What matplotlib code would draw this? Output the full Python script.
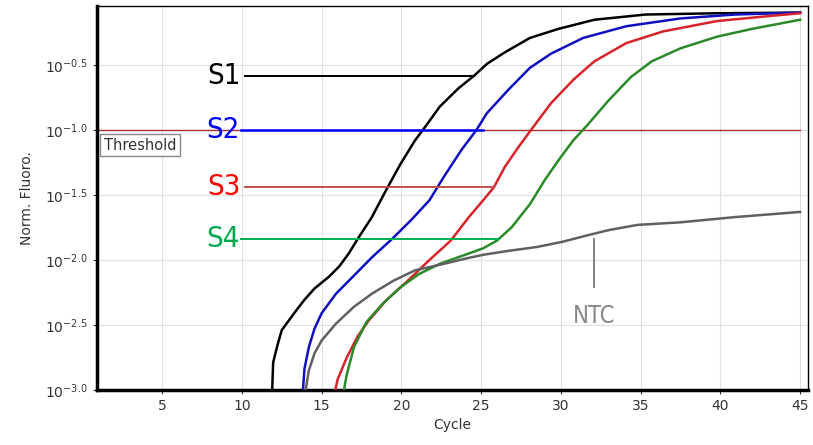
import numpy as np
import matplotlib
matplotlib.use('Agg')
import matplotlib.pyplot as plt

# amplification curves (cycle, log10 of norm. fluorescence)
s1_cycle = [11.9, 11.96, 12.2, 12.5, 12.86, 13.4, 13.9, 14.55, 15.45, 16.1, 16.7, 17.25, 18.15,
            19.05, 19.95, 20.85, 21.64, 22.4, 23.56, 24.57, 25.36, 26.5, 28.06, 29.86, 32.1,
            35.3, 39.8, 45]
s1_log = [-3.0, -2.79, -2.67, -2.54, -2.48, -2.39, -2.31, -2.22, -2.13, -2.05, -1.95, -1.84, -1.67,
          -1.46, -1.26, -1.08, -0.95, -0.82, -0.68, -0.58, -0.49, -0.40, -0.29, -0.22, -0.15,
          -0.11, -0.10, -0.095]

s2_cycle = [13.83, 13.92, 14.2, 14.55, 15.0, 15.9, 17.03, 18.15, 19.4, 20.63, 21.76, 22.66, 23.78,
            24.7, 25.36, 26.7, 28.06, 29.4, 31.4, 34.1, 37.5, 40.9, 45]
s2_log = [-3.0, -2.84, -2.67, -2.53, -2.41, -2.26, -2.12, -1.98, -1.84, -1.69, -1.54, -1.36, -1.15,
          -1.0, -0.87, -0.69, -0.52, -0.41, -0.29, -0.20, -0.14, -0.11, -0.095]

s3_cycle = [15.86, 16.0, 16.58, 17.25, 17.93, 19.05, 20.4, 21.76, 23.1, 24.23, 25.13, 25.8, 26.5,
            27.4, 28.3, 29.4, 30.8, 32.1, 34.1, 36.4, 39.8, 43.2, 45]
s3_log = [-3.0, -2.92, -2.75, -2.59, -2.47, -2.31, -2.16, -2.0, -1.85, -1.67, -1.54, -1.44, -1.28,
          -1.12, -0.97, -0.79, -0.61, -0.47, -0.33, -0.24, -0.16, -0.12, -0.10]

s4_cycle = [16.4, 16.58, 17.03, 17.8, 18.8, 19.95, 21.08, 22.4, 24.0, 25.13, 26.0, 26.9, 28.06,
            28.96, 29.86, 30.77, 31.67, 33.0, 34.4, 35.7, 37.5, 39.8, 42.0, 45]
s4_log = [-3.0, -2.88, -2.67, -2.48, -2.34, -2.21, -2.11, -2.03, -1.96, -1.91, -1.85, -1.75, -1.57,
          -1.39, -1.23, -1.08, -0.96, -0.77, -0.59, -0.47, -0.37, -0.28, -0.22, -0.15]

ntc_cycle = [14.0, 14.2, 14.55, 15.0, 15.9, 17.03, 18.15, 19.5, 20.85, 22.66, 24.0, 25.13, 26.7,
             28.5, 30.1, 31.67, 33.0, 34.8, 37.5, 40.9, 45]
ntc_log = [-3.0, -2.85, -2.72, -2.62, -2.49, -2.36, -2.26, -2.16, -2.08, -2.03, -1.99, -1.96, -1.93,
           -1.90, -1.86, -1.81, -1.77, -1.73, -1.71, -1.67, -1.63]

threshold_log = -1.0
x_ticks = [5, 10, 15, 20, 25, 30, 35, 40, 45]
y_ticks_log = [-3.0, -2.5, -2.0, -1.5, -1.0, -0.5]

# sample labels: name, level, label x, pointer line start / end
labels = ['S1', 'S2', 'S3', 'S4']
label_level = [-0.58, -1.0, -1.44, -1.835]
label_x = [9.9, 9.85, 9.9, 9.85]
line_start = [10.2, 9.95, 10.2, 9.95]
line_end = [24.57, 25.1, 25.8, 26.15]
label_colors = ['#000000', '#0000ff', '#ff0000', '#00a84f']
pointer_colors = ['#000000', '#0000ff', '#c0504d', '#00b050']

fig = plt.figure(figsize=(8.13, 4.45), dpi=100)
ax = fig.add_axes([0.119, 0.124, 0.875, 0.862])
ax.set_yscale('log')

curves = [(s1_cycle, s1_log, '#000000'), (s2_cycle, s2_log, '#1010c0'),
          (s3_cycle, s3_log, '#d8232a'), (s4_cycle, s4_log, '#2a8a2a'),
          (ntc_cycle, ntc_log, '#606060')]

ax.axhline(10 ** threshold_log, xmin=0, xmax=(45 - 0.9) / (45.5 - 0.9), color='#a83232', lw=1.0, zorder=2)

for cyc, lg, col in curves:
    ax.plot(cyc, 10 ** np.array(lg), color=col, lw=1.8, zorder=3)

for name, lvl, lx, x0, x1, tc, pc in zip(labels, label_level, label_x, line_start, line_end,
                                          label_colors, pointer_colors):
    lw = 1.8 if name == 'S2' else 1.4
    ax.plot([x0, x1], [10 ** lvl, 10 ** lvl], color=pc, lw=lw, zorder=4)
    ax.text(lx, 10 ** lvl, name, color=tc, fontsize=21, ha='right', va='center',
            family='DejaVu Sans', fontstretch='condensed', zorder=5)

# NTC pointer
ax.plot([32.1, 32.1], [10 ** -1.835, 10 ** -2.21], color='#777777', lw=1.3, zorder=4)
ax.text(32.1, 10 ** -2.43, 'NTC', color='#888888', fontsize=17, ha='center', va='center',
        family='DejaVu Sans', fontstretch='condensed')

ax.text(1.35, 10 ** -1.115, 'Threshold', fontsize=10.5, color='#333333', ha='left', va='center',
        bbox=dict(boxstyle='square,pad=0.25', fc='white', ec='#888888', lw=1))

ax.set_xlim(0.9, 45.5)
ax.set_ylim(10 ** -3.0, 10 ** -0.046)
ax.set_xticks(x_ticks)
ax.set_xticklabels([str(t) for t in x_ticks])
ax.set_yticks([10 ** t for t in y_ticks_log])
ax.set_yticklabels([r'$10^{%.1f}$' % t for t in y_ticks_log])
ax.yaxis.set_minor_locator(matplotlib.ticker.NullLocator())
ax.tick_params(axis='both', labelsize=10, colors='#333333', length=3)
ax.grid(True, color='#e0e0e0', lw=0.8)
ax.set_axisbelow(True)

for side in ['left', 'bottom']:
    ax.spines[side].set_linewidth(2.5)
for side in ['top', 'right']:
    ax.spines[side].set_linewidth(1.0)

ax.set_xlabel('Cycle', fontsize=10, color='#333333', labelpad=4)
ax.set_ylabel('Norm. Fluoro.', fontsize=10, color='#333333', labelpad=8)

fig.savefig('out.png', dpi=100)
